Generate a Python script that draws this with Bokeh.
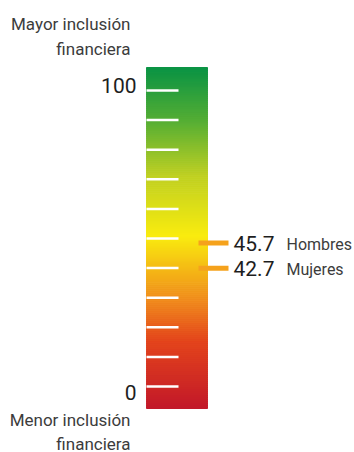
from bokeh.plotting import figure
from bokeh.models import Range1d
from bokeh.core.properties import value
from bokeh.embed import file_html
from bokeh.resources import INLINE
import numpy as np

# ---- data ----
categories = ["Hombres", "Mujeres"]
scores = [45.7, 42.7]
score_labels = ["45.7", "42.7"]
tick_values = [0, 10, 20, 30, 40, 50, 60, 70, 80, 90, 100]
axis_label_values = [0, 100]
axis_labels = ["0", "100"]
top_caption = ["Mayor inclusión", "financiera"]
bottom_caption = ["Menor inclusión", "financiera"]

# ---- layout helpers (pixel layout -> data units) ----
W, H = 354, 452
Y0, SCALE = 386.0, 2.96  # pixel row of value 0, pixels per unit


def vy(py):
    return (Y0 - py) / SCALE


FONT = "Roboto"

p = figure(width=W, height=H, output_backend="svg", toolbar_location=None,
           x_range=Range1d(0, W), y_range=Range1d(vy(H), vy(0)),
           min_border=0, outline_line_color=None)
p.axis.visible = False
p.grid.visible = False
p.background_fill_color = "white"
p.border_fill_color = "white"

# ---- gradient bar ----
stops_px = [67, 120, 175, 235, 300, 340, 408]
stops_col = ["#0a9444", "#55ae34", "#bfd022", "#f9ec0f", "#f08a1c", "#e3441b", "#c1182a"]
stops_v = [vy(s) for s in stops_px]
rgb = np.array([[int(c[i:i + 2], 16) for i in (1, 3, 5)] for c in stops_col], float)
N = 170
edges = np.linspace(stops_v[-1], stops_v[0], N + 1)
mids = (edges[:-1] + edges[1:]) / 2
sv = stops_v[::-1]
cols = []
for m in mids:
    r = np.interp(m, sv, rgb[::-1, 0])
    g = np.interp(m, sv, rgb[::-1, 1])
    b = np.interp(m, sv, rgb[::-1, 2])
    cols.append("#%02x%02x%02x" % (int(round(r)), int(round(g)), int(round(b))))
p.quad(left=146, right=207, bottom=edges[:-1], top=edges[1:],
       fill_color=cols, line_color=cols, line_width=1)

# ---- ticks ----
p.segment(x0=[146] * len(tick_values), x1=[178] * len(tick_values),
          y0=tick_values, y1=tick_values, line_color="white", line_width=2.5)

# axis end labels
p.text(x=[136] * len(axis_labels), y=axis_label_values, text=axis_labels,
       text_align="right", text_baseline="middle", y_offset=[6, -5],
       text_font=value(FONT), text_font_size="21px", text_color="#1e1e1e")

# captions
p.text(x=[130, 130], y=[vy(23), vy(48)], text=top_caption,
       text_align="right", text_baseline="middle",
       text_font=value(FONT), text_font_size="17px", text_color="#3c3c3c")
p.text(x=[130, 130], y=[vy(419), vy(443)], text=bottom_caption,
       text_align="right", text_baseline="middle",
       text_font=value(FONT), text_font_size="17px", text_color="#3c3c3c")

# ---- markers: spread labels symmetrically around their mean ----
gap = 8.5
mid = sum(scores) / len(scores)
order = np.argsort(scores)[::-1]
pos = [0.0] * len(scores)
for rank, idx in enumerate(order):
    pos[idx] = mid + gap * ((len(scores) - 1) / 2 - rank)

p.segment(x0=[198] * len(scores), x1=[228] * len(scores), y0=pos, y1=pos,
          line_color="#f5a21c", line_width=5)
p.text(x=[233] * len(scores), y=pos, text=score_labels,
       text_align="left", text_baseline="middle",
       text_font=value(FONT), text_font_size="21px", text_color="#1e1e1e")
p.text(x=[286] * len(scores), y=pos, text=categories,
       text_align="left", text_baseline="middle", y_offset=1,
       text_font=value(FONT), text_font_size="16px", text_color="#3c3c3c")

open("out.html", "w").write(file_html(p, INLINE))
